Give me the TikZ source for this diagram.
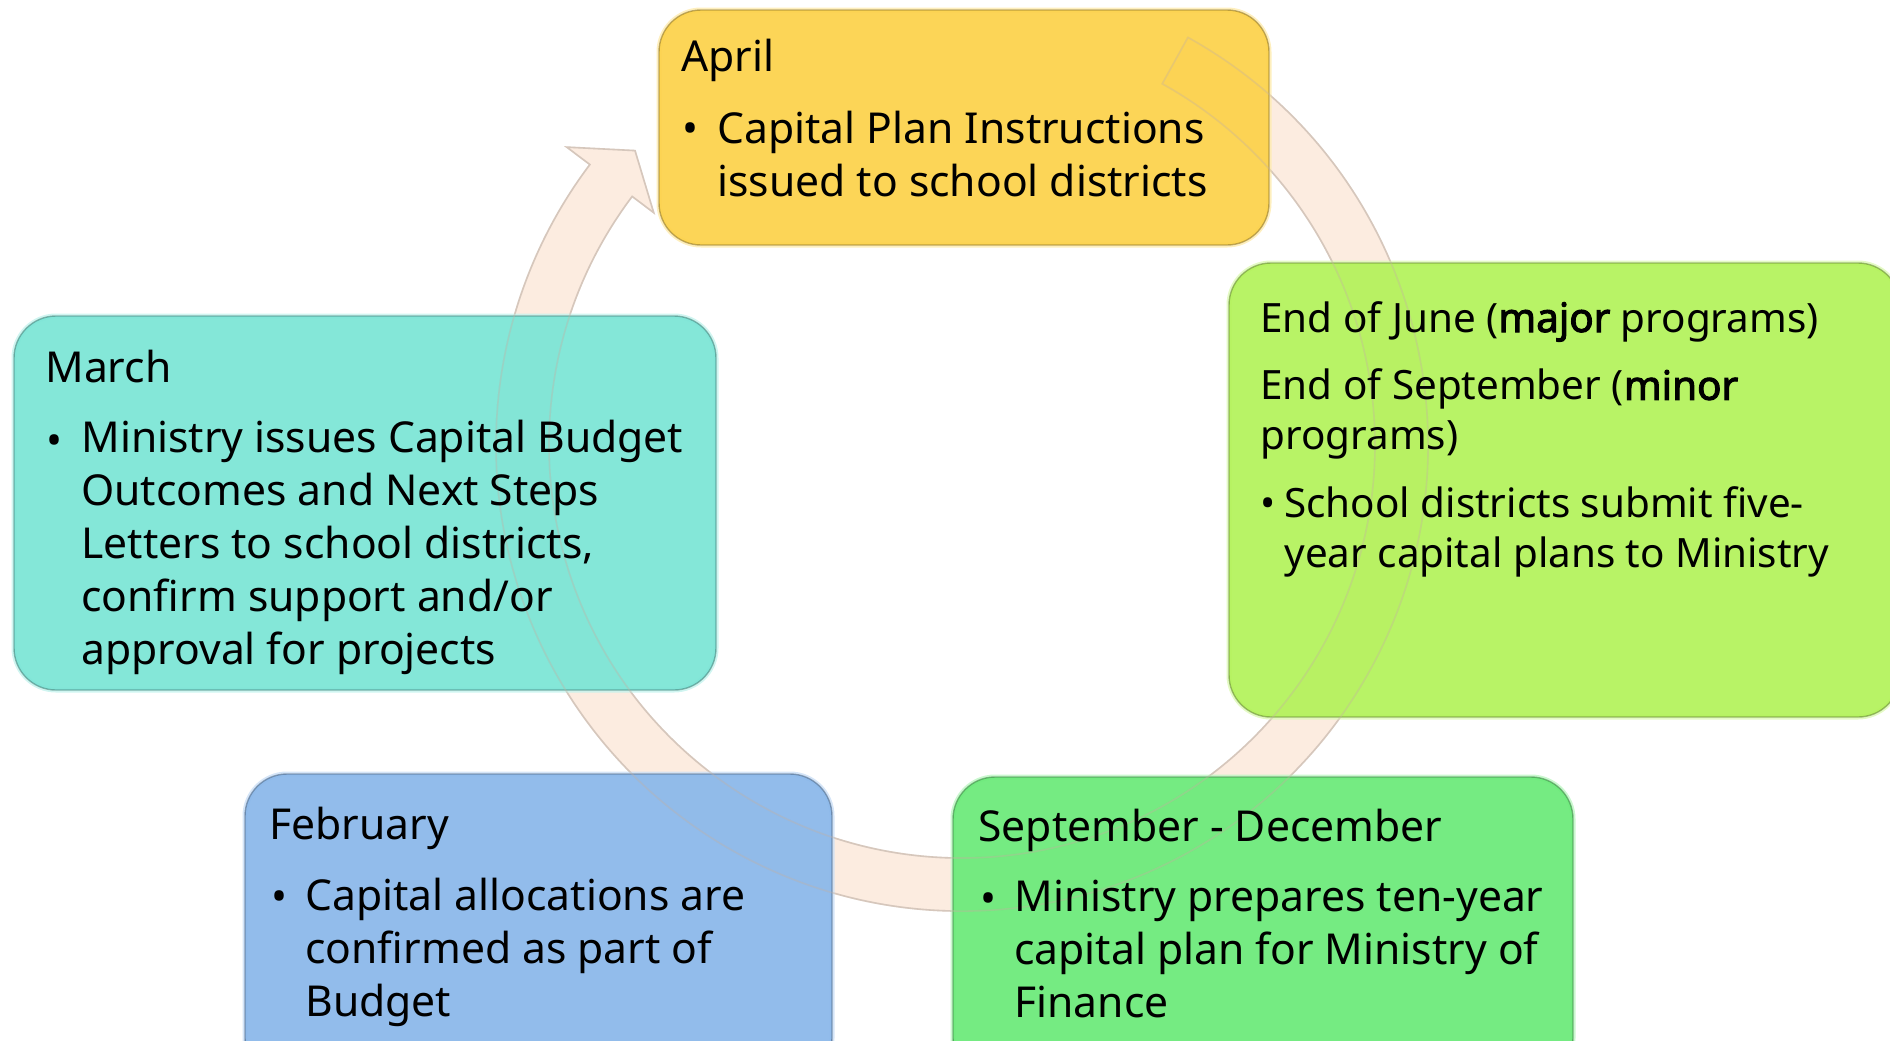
\documentclass[tikz,border=0pt]{standalone}
\usepackage{fontspec}
\setmainfont{Noto Sans}[AutoFakeBold=2.5]
\usepackage{tikz}

\definecolor{aprilcol}{RGB}{252,210,76}
\definecolor{junecol}{RGB}{180,242,92}
\definecolor{deccol}{RGB}{108,234,122}
\definecolor{febcol}{RGB}{139,184,234}
\definecolor{marchcol}{RGB}{124,229,214}
\definecolor{ringcol}{RGB}{252,236,224}
\definecolor{ringline}{RGB}{200,180,165}
\newcommand{\boxfont}{\fontsize{21.3}{26.5}\selectfont}
\newcommand{\junefont}{\fontsize{20.2}{24.6}\selectfont}
\newcommand{\ringpath}{(-61:466) arc[start angle=-61, end angle=217, radius=466]
  -- (217:495) -- (222:440) -- (217:386) -- (217:413)
  arc[start angle=217, end angle=-61, radius=413] -- cycle}

\begin{document}
\begin{tikzpicture}[x=0.5pt,y=-0.5pt,
  box/.style={preaction={draw=#1!45!white, line width=2.5pt, draw opacity=0.8},
    fill=#1, draw=#1!55!black, line width=0.7pt, rounded corners=21pt,
    fill opacity=0.94, draw opacity=0.55},
  txt/.style={anchor=base west, align=left, inner sep=0pt, font=\boxfont},
  jtxt/.style={anchor=base west, align=left, inner sep=0pt, font=\junefont}]
\useasboundingbox (0,0) rectangle (1890,1040);
\clip (0,0) rectangle (1890,1040);

\filldraw[fill=ringcol, draw=ringline!60!white, line width=0.8pt, shift={(962,445)}] \ringpath;

\path[box=aprilcol] (659,10) rectangle (1269,245);
\path[box=junecol] (1229,263) rectangle (1900,717);
\path[box=marchcol] (14,316) rectangle (716,690);
\path[box=febcol] (245,774) rectangle (832,1080);
\path[box=deccol] (953,777) rectangle (1573,1080);

\draw[ringline, draw opacity=0.35, line width=0.8pt, shift={(962,445)}] \ringpath;

\node[txt] (aprT) at (681,71) {April};
\node[txt] (aprD) at (682,143) {•};
\node[txt] (aprB) at (717,196) {Capital Plan Instructions\\issued to school districts};

\node[jtxt] (junT) at (1260,332) {End of June (\textbf{major} programs)};
\node[jtxt] (sepT) at (1260,449) {End of September (\textbf{minor}\\programs)};
\node[jtxt] (junD) at (1260,517) {•};
\node[jtxt] (junB) at (1284,567) {School districts submit five-\\year capital plans to Ministry};

\node[txt] (marT) at (45,382) {March};
\node[txt] (marD) at (46,455) {•};
\node[txt] (marB) at (81,664) {Ministry issues Capital Budget\\Outcomes and Next Steps\\Letters to school districts,\\confirm support and/or\\approval for projects};

\node[txt] (febT) at (269,839) {February};
\node[txt] (febD) at (271,911) {•};
\node[txt] (febB) at (305,1016) {Capital allocations are\\confirmed as part of\\Budget};

\node[txt] (decT) at (978,841) {September - December};
\node[txt] (decD) at (980,913) {•};
\node[txt] (decB) at (1014,1017) {Ministry prepares ten-year\\capital plan for Ministry of\\Finance};
\end{tikzpicture}
\end{document}
